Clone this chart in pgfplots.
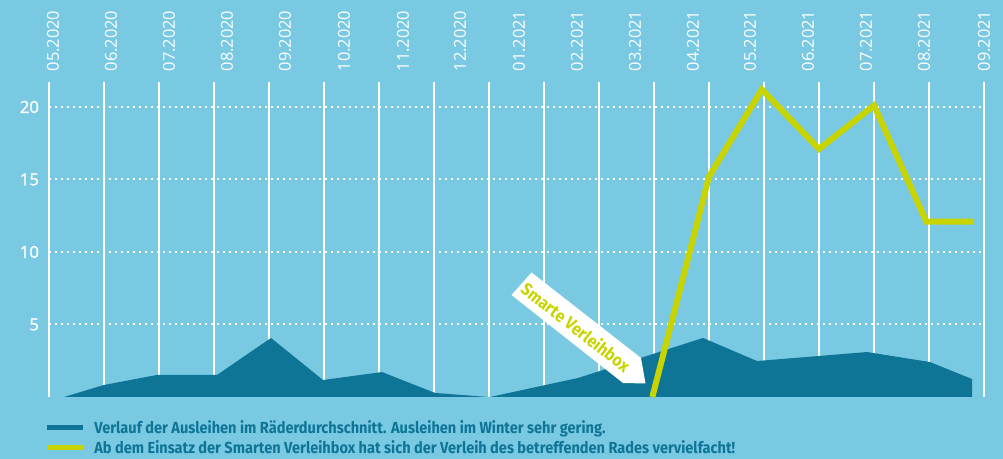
\documentclass[border=0pt]{standalone}
\usepackage{pgfplots}
\pgfplotsset{compat=1.18}
\usepackage{fontspec}
\setmainfont{Open Sans}
\newfontfamily\tickfont[FakeBold=1.3]{Open Sans}
\newfontfamily\legfont[FakeStretch=0.91]{Fira Sans}
\definecolor{bgblue}{HTML}{79C9E3}
\definecolor{darkteal}{HTML}{0E7596}
\definecolor{lime}{HTML}{C8D400}
\begin{document}
\begin{tikzpicture}
\path[use as bounding box, fill=bgblue] (0,0) rectangle (752.25pt,344.25pt);
\begin{axis}[
  at={(36.75pt,46.5pt)}, anchor=south west,
  scale only axis, width=701.25pt, height=236.25pt,
  xmin=0, xmax=17, ymin=0, ymax=21.72,
  clip=false,
  axis line style={draw=none},
  major tick length=0pt,
  xtick={0.073,1.127,2.182,3.236,4.291,5.364,6.436,7.473,8.545,9.6,10.655,11.709,12.745,13.8,14.855,15.909,17},
  xticklabels={05.2020,06.2020,07.2020,08.2020,09.2020,10.2020,11.2020,12.2020,01.2021,02.2021,03.2021,04.2021,05.2021,06.2021,07.2021,08.2021,09.2021},
  xticklabel pos=upper,
  x tick label style={rotate=90, anchor=west, font=\fontsize{12.3}{13}\selectfont, text=white},
  xticklabel shift=4.5pt,
  extra x ticks={0,1,2,3,4,5,6,7,8,9,10,11,12,13,14,15,16,17},
  extra x tick labels={},
  extra x tick style={grid=major},
  x grid style={white, line width=1.5pt},
  ytick={5,10,15,20},
  ymajorgrids,
  y grid style={white, line width=1.5pt, dash pattern=on 1.5pt off 3pt},
  y tick label style={anchor=east, xshift=-4pt, font=\tickfont\fontsize{12.5}{13}\selectfont, text=white},
  /pgf/number format/assume math mode=true,
  legend cell align=left,
  legend style={at={(-0.002,-0.064)}, anchor=north west, draw=none, fill=none,
    inner sep=0pt, row sep=0pt,
    font=\legfont\bfseries\fontsize{12}{12}\selectfont, text=darkteal},
]
\addplot[fill=darkteal, draw=none,
  legend image code/.code={\fill[darkteal, draw=none] (0pt,-1.9pt) rectangle (27pt,1.9pt); \path (31pt,0pt);}]
  coordinates {(0.273,0) (1.0,0.83) (1.964,1.52) (3.055,1.52) (4.036,4.07) (4.982,1.17) (6.055,1.72) (7.018,0.28) (7.982,0)
  (8.018,0) (9.618,1.31) (11.891,4.07) (12.873,2.48) (14.873,3.10) (16.018,2.41) (16.782,1.24) (16.782,0)} \closedcycle;
\addlegendentry{Verlauf der Ausleihen im Räderdurchschnitt. Ausleihen im Winter sehr gering.}
\addplot[color=lime, line width=4.5pt, line join=miter, line cap=butt,
  legend image code/.code={\fill[lime, draw=none] (0pt,-1.9pt) rectangle (27pt,1.9pt); \path (31pt,0pt);}]
  coordinates {(10.97,0) (12,15.2) (12.96,21.2) (14,17.1) (15,20.1) (15.95,12.1) (16.8,12.1)};
\addlegendentry{Ab dem Einsatz der Smarten Verleihbox hat sich der Verleih des betreffenden Rades vervielfacht!}
\end{axis}
\begin{scope}[x=0.75pt,y=0.75pt]
\fill[white] (531.5,186.5) -- (641,101) -- (645.5,75.5) -- (623,76) -- (511.5,164) -- cycle;
\node[rotate=-38, text=lime, inner sep=0pt, font=\legfont\bfseries\fontsize{13}{13}\selectfont] at (576,132) {Smarte Verleihbox};
\end{scope}
\end{tikzpicture}
\end{document}
